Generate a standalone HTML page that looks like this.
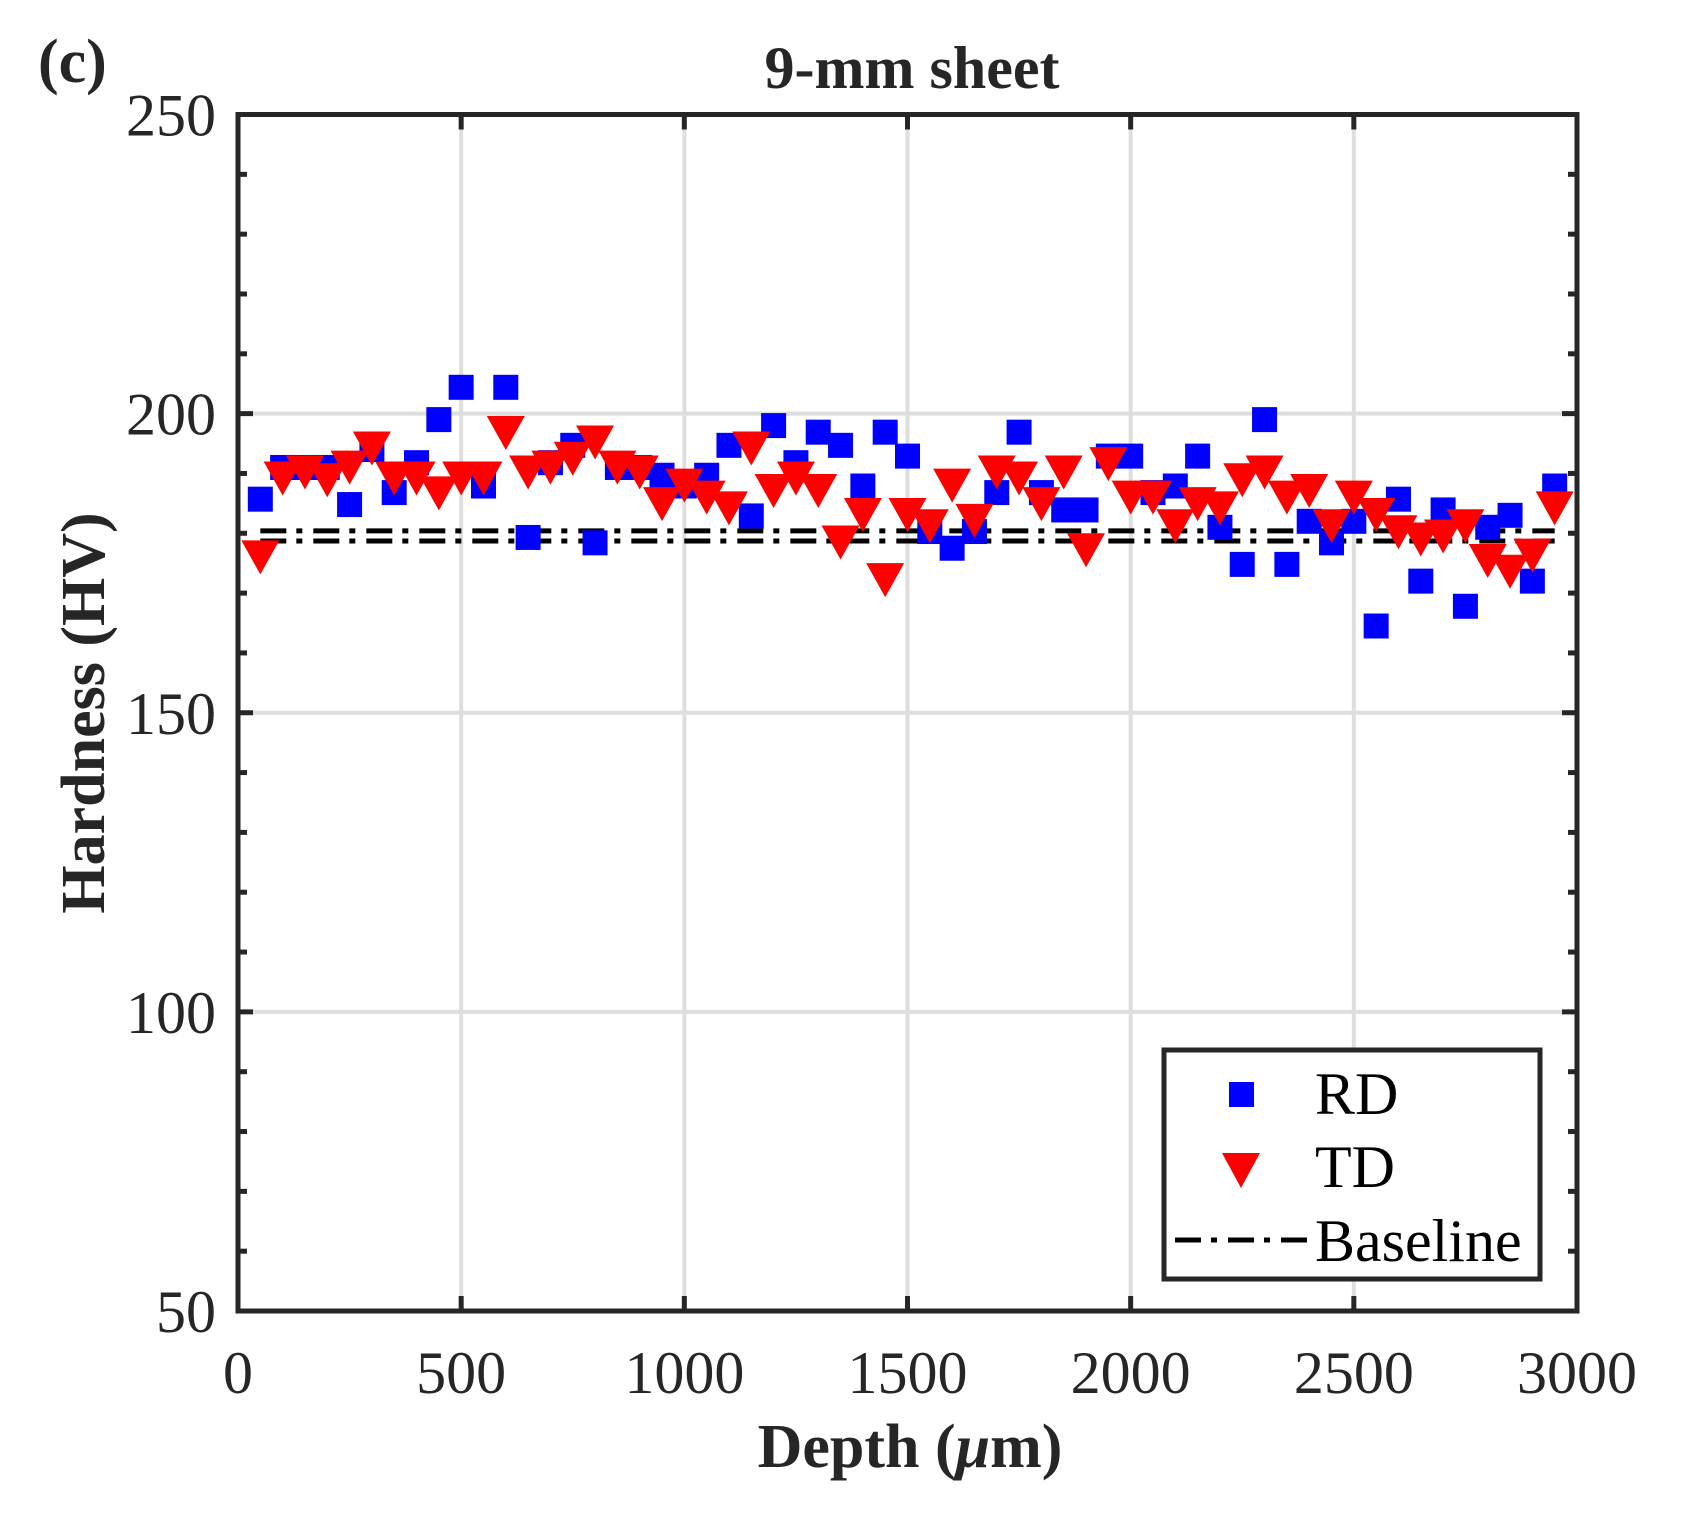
<!DOCTYPE html>
<html><head><meta charset="utf-8">
<style>
html,body{margin:0;padding:0;background:#fff;}
svg{display:block;}
text{font-family:"Liberation Serif",serif;fill:#262626;}
</style></head>
<body>
<svg id="s" width="1688" height="1517" viewBox="0 0 1688 1517" xmlns="http://www.w3.org/2000/svg">
<rect width="1688" height="1517" fill="#fff"/>
<g id="grid" stroke="#dedede" stroke-width="4"></g>
<g id="base" stroke="#000" stroke-width="5" fill="none" stroke-dasharray="26,10,6,11"></g>
<g id="pts"></g>
<g id="axes" stroke="#262626" stroke-width="5" fill="none"></g>
<g id="lbl" font-size="60"></g>
<text x="912" y="88" font-size="60" font-weight="bold" text-anchor="middle">9-mm sheet</text>
<text x="38" y="82" font-size="62" font-weight="bold">(c)</text>
<text x="910" y="1467" font-size="62" font-weight="bold" text-anchor="middle">Depth (<tspan font-style="italic">μ</tspan>m)</text>
<text transform="translate(104,713) rotate(-90)" font-size="62" font-weight="bold" text-anchor="middle">Hardness (HV)</text>
<g id="leg">
<rect x="1164" y="1050" width="376" height="229" fill="#fff" stroke="#262626" stroke-width="5"/>
<rect x="1229" y="1082" width="25" height="25" fill="#0000ff"/>
<polygon points="1222,1153 1260,1153 1241,1188" fill="#ff0000"/>
<line x1="1175" y1="1240" x2="1307" y2="1240" stroke="#000" stroke-width="5" stroke-dasharray="26,10,6,11"/>
<text x="1315" y="1114" font-size="60" style="fill:#000">RD</text>
<text x="1315" y="1187" font-size="60" style="fill:#000">TD</text>
<text x="1315" y="1261" font-size="60" style="fill:#000">Baseline</text>
</g>
</svg>
<script>
const L=238,R=1577,T=114.5,B=1311;
const X=v=>L+(R-L)*v/3000, Y=v=>B-(B-T)*(v-50)/200;
const NS="http://www.w3.org/2000/svg";
function el(p,t,a,txt){const e=document.createElementNS(NS,t);for(const k in a)e.setAttribute(k,a[k]);if(txt!==undefined)e.textContent=txt;document.getElementById(p).appendChild(e);return e;}
for(let v=500;v<3000;v+=500)el('grid','line',{x1:X(v),x2:X(v),y1:T,y2:B});
for(let v=100;v<250;v+=50)el('grid','line',{x1:L,x2:R,y1:Y(v),y2:Y(v)});
[180.4,178.7].forEach(h=>el('base','line',{x1:X(50),x2:X(2950),y1:Y(h),y2:Y(h)}));
const rd=[185.7,191,191,191,184.8,194,186.8,191.8,199,204.4,187.9,204.4,179.3,191.8,194.7,178.4,191,191,189.7,187.9,189.7,194.7,182.9,198,191.8,196.9,194.7,187.9,196.9,192.9,180.3,177.5,180.3,186.8,196.9,186.8,183.9,183.9,192.9,192.9,186.8,187.9,192.9,181,174.8,199,174.8,182,178.4,182,164.5,185.7,172,183.9,167.8,181,183,172,187.9];
const td=[176.8,190,191,189.7,191.8,195,190,190,187.5,190,190,197.6,191,191.8,193.3,196,191.8,191,185.7,188.8,186.8,185,195,187.9,190,187.9,179.3,183.9,173,183.9,182,188.8,182.9,191,190,185.7,191,178,192.4,186.8,186.8,182,185.7,185,189.7,191,186.8,187.9,182,186.8,183.9,181,179.8,180.3,182,176.2,174.4,177.1,185];
rd.forEach((h,i)=>{const x=X(50*(i+1)),y=Y(h);el('pts','rect',{x:x-12.5,y:y-12.5,width:25,height:25,fill:'#0000ff'});});
td.forEach((h,i)=>{const x=X(50*(i+1)),y=Y(h);el('pts','polygon',{points:`${x-19},${y-12} ${x+19},${y-12} ${x},${y+22}`,fill:'#ff0000'});});
el('axes','rect',{x:L,y:T,width:R-L,height:B-T});
for(let v=0;v<=3000;v+=500){const x=X(v);el('axes','line',{x1:x,x2:x,y1:B,y2:B-15});el('axes','line',{x1:x,x2:x,y1:T,y2:T+15});
 el('lbl','text',{x:x,y:1393,'text-anchor':'middle'},String(v));}
for(let v=50;v<=250;v+=10){const y=Y(v),len=(v%50==0)?15:9;el('axes','line',{x1:L,x2:L+len,y1:y,y2:y});el('axes','line',{x1:R,x2:R-len,y1:y,y2:y});}
for(let v=50;v<=250;v+=50)el('lbl','text',{x:216,y:Y(v)+21,'text-anchor':'end'},String(v));
</script>
</body></html>
